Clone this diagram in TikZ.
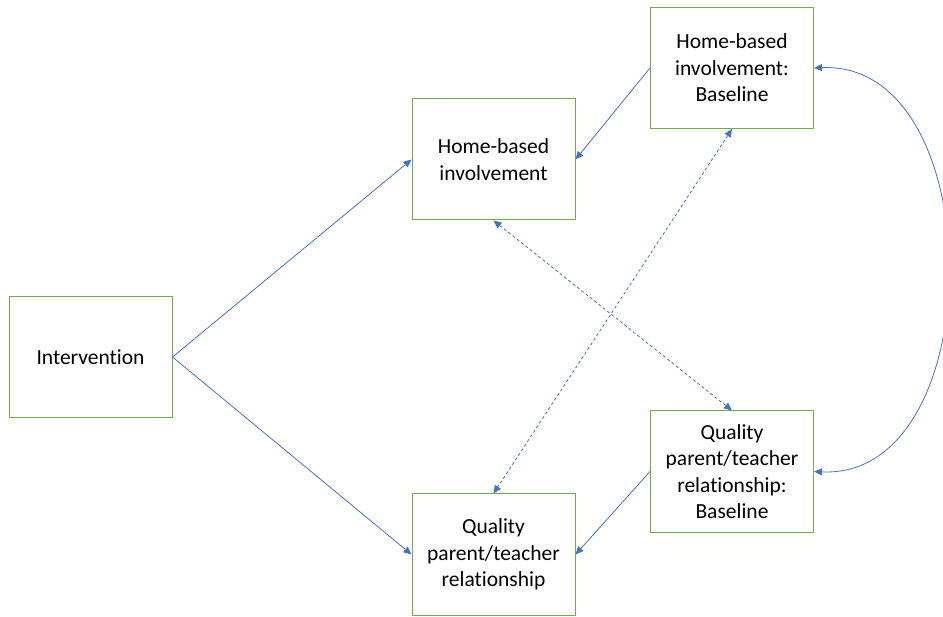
\documentclass[tikz,border=0pt]{standalone}
\usepackage{fontspec}
\setmainfont[Ligatures=NoCommon]{Carlito}
\usetikzlibrary{arrows.meta}
\definecolor{boxgreen}{HTML}{70AD47}
\definecolor{lineblue}{HTML}{4472C4}
\begin{document}
\begin{tikzpicture}[x=1pt,y=-1pt,
  box/.style={draw=boxgreen,line width=1pt,minimum width=163pt,minimum height=121pt,align=center,inner sep=0pt,font=\fontsize{21.5}{26.5}\selectfont},
  conn/.style={draw=lineblue,line width=0.8pt,-{Triangle[length=8pt,width=7pt]}},
  dconn/.style={conn,{Triangle[length=8pt,width=7pt]}-{Triangle[length=8pt,width=7pt]},dash pattern=on 3pt off 2.5pt}]
\useasboundingbox (0,0) rectangle (943,617);
\node[box] (int) at (90.5,357) {Intervention};
\node[box] (hbi) at (493.5,159.5) {Home-based\\involvement};
\node[box] (hbib) at (732,68) {Home-based\\involvement:\\Baseline};
\node[box] (qp) at (493.5,554.5) {Quality\\parent/teacher\\relationship};
\node[box] (qpb) at (732,471.5) {Quality\\parent/teacher\\relationship:\\Baseline};
\draw[conn] (int.east) -- (hbi.west);
\draw[conn] (int.east) -- (qp.west);
\draw[conn] (hbib.west) -- (hbi.east);
\draw[conn] (qpb.west) -- (qp.east);
\draw[dconn] (hbi.south) -- (qpb.north);
\draw[dconn] (hbib.south) -- (qp.north);
\draw[conn,{Triangle[length=8pt,width=7pt]}-{Triangle[length=8pt,width=7pt]}] (qpb.east) .. controls (992,480) and (992,60) .. (hbib.east);
\end{tikzpicture}
\end{document}
